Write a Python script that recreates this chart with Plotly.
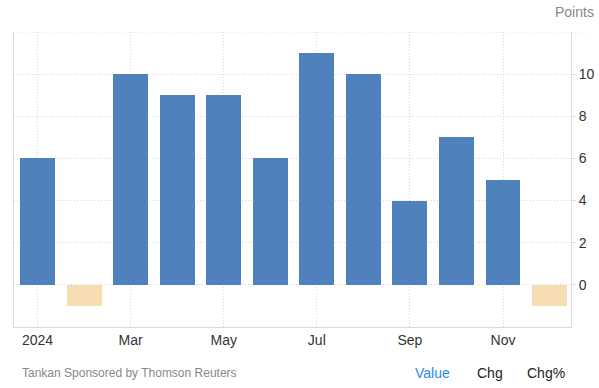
import plotly.graph_objects as go

months = ["Jan", "Feb", "Mar", "Apr", "May", "Jun", "Jul", "Aug", "Sep", "Oct", "Nov", "Dec"]
values = [6, -1, 10, 9, 9, 6, 11, 10, 4, 7, 5, -1]
x_tick_labels = ["2024", "Mar", "May", "Jul", "Sep", "Nov"]
x_tick_idx = [0, 2, 4, 6, 8, 10]
y_ticks = [0, 2, 4, 6, 8, 10]

POS = "#4f81bd"
NEG = "#f5dcb1"
FONT = "Arial, Liberation Sans, sans-serif"
DOT = "1px,2px"

xs = list(range(len(months)))
colors = [POS if v >= 0 else NEG for v in values]

fig = go.Figure()
fig.add_trace(go.Bar(
    x=xs, y=values, width=0.75, marker=dict(color=colors, line=dict(width=0)),
    hoverinfo="skip", showlegend=False,
))

fig.update_layout(
    template="none",
    width=599, height=388,
    margin=dict(l=14, r=28, t=32, b=61, autoexpand=False),
    paper_bgcolor="white", plot_bgcolor="white",
    font=dict(family=FONT, size=14, color="#333"),
    bargap=0,
    hovermode=False,
    xaxis=dict(
        range=[-0.505, 11.46], automargin=False, fixedrange=True,
        tickvals=x_tick_idx, ticktext=x_tick_labels,
        showgrid=True, gridcolor="#d6d6d6", griddash=DOT, gridwidth=1,
        showline=True, linecolor="#d9d9d9", linewidth=1,
        ticks="", zeroline=False,
        tickfont=dict(size=14, color="#333"),
    ),
    yaxis=dict(
        range=[-2, 12], side="right", automargin=False, fixedrange=True,
        tickvals=y_ticks,
        showgrid=True, gridcolor="#d6d6d6", griddash=DOT, gridwidth=1,
        showline=True, mirror=True, linecolor="#dddddd", linewidth=1,
        ticks="outside", ticklen=4, tickcolor="#dddddd",
        zeroline=False,
        tickfont=dict(size=14, color="#333"),
    ),
    shapes=[
        dict(type="line", xref="paper", yref="y", x0=0, x1=1.025, y0=12, y1=12,
             line=dict(color="#d6d6d6", width=1, dash=DOT)),
    ],
    annotations=[
        dict(text="Points", xref="paper", yref="paper", x=1.045, y=1.0, yshift=20,
             xanchor="right", yanchor="middle", showarrow=False,
             font=dict(size=14, color="#888888", family=FONT)),
        dict(text="Tankan Sponsored by Thomson Reuters", xref="paper", yref="paper",
             x=0.011, y=0, yshift=-46, xanchor="left", yanchor="middle", showarrow=False,
             font=dict(size=12, color="#888888", family=FONT)),
        dict(text="Value", xref="paper", yref="paper", x=0.717, y=0, yshift=-46,
             xanchor="left", yanchor="middle", showarrow=False,
             font=dict(size=14, color="#2a8af0", family=FONT)),
        dict(text="Chg", xref="paper", yref="paper", x=0.827, y=0, yshift=-46,
             xanchor="left", yanchor="middle", showarrow=False,
             font=dict(size=14, color="#222222", family=FONT)),
        dict(text="Chg%", xref="paper", yref="paper", x=0.917, y=0, yshift=-46,
             xanchor="left", yanchor="middle", showarrow=False,
             font=dict(size=14, color="#222222", family=FONT)),
    ],
)

fig.write_html(
    "out.html",
    config={"displayModeBar": False, "staticPlot": True},
    post_script="document.body.style.margin='0';document.body.style.padding='0';",
)
